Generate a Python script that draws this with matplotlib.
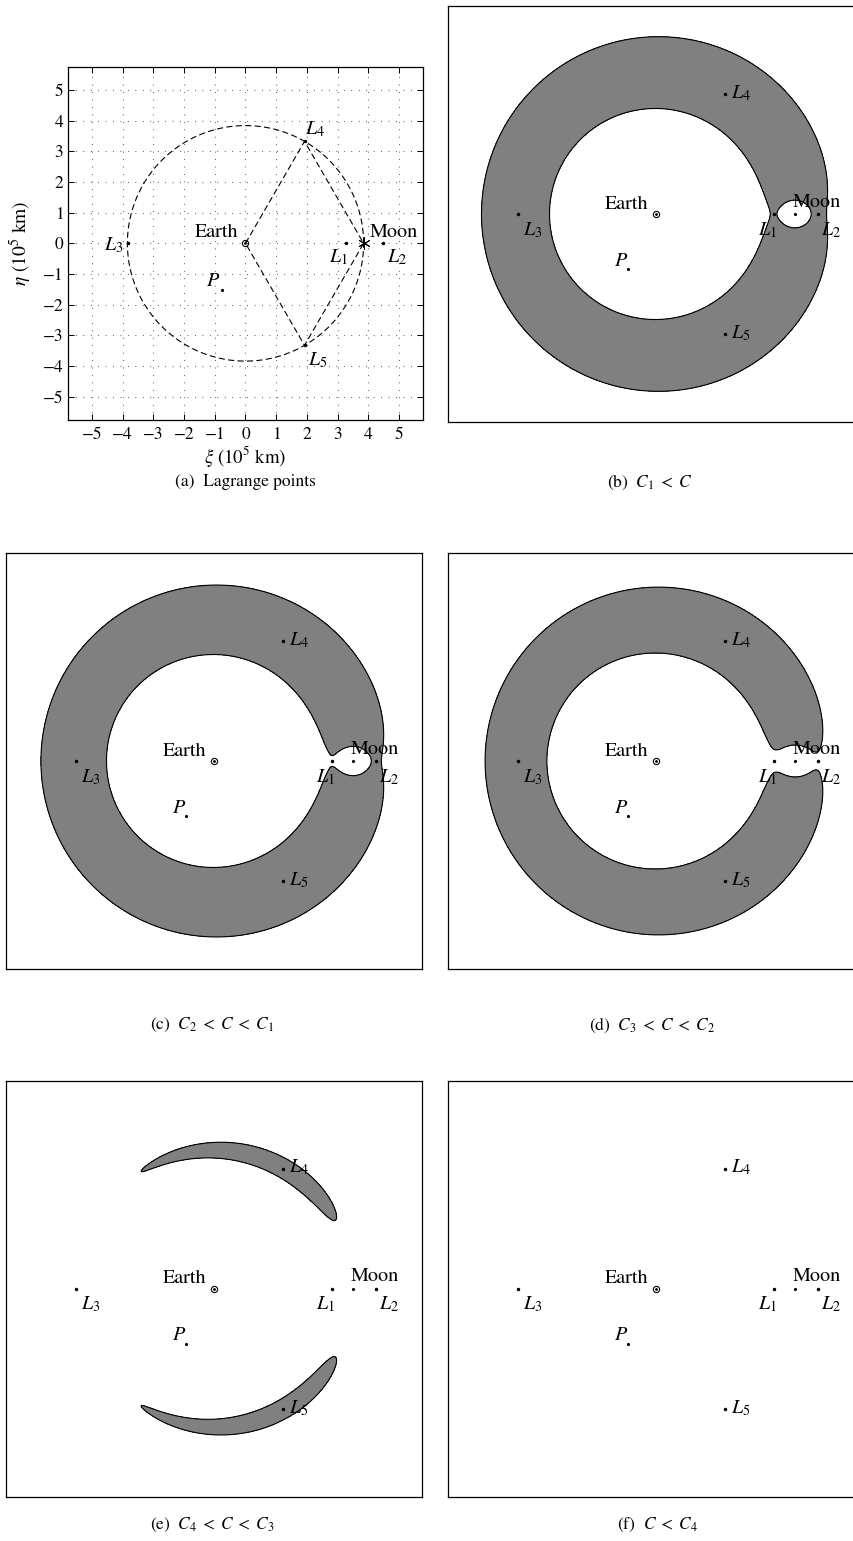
import numpy as np
import matplotlib.pyplot as plt

plt.rcParams['font.family'] = 'STIXGeneral'
plt.rcParams['mathtext.fontset'] = 'stix'

#---------------------------------- data -------------------------------------#
# Earth-Moon distance (10^5 km) and mass ratio
d_em = 3.844
mu = 0.01215

# Lagrange points in 10^5 km, Earth at the origin
lag_names = [r'$L_1$', r'$L_2$', r'$L_3$', r'$L_4$', r'$L_5$']
lag_xi = [3.26, 4.49, -3.82, 1.92, 1.92]
lag_eta = [0.0, 0.0, 0.0, 3.33, -3.33]
earth_xi, earth_eta = 0.0, 0.0
moon_xi, moon_eta = 3.844, 0.0
p_xi, p_eta = -0.77, -1.53

# Jacobi constant used in panels (b)..(f)
jacobi_c = [3.195, 3.182, 3.163, 3.0025, 2.980]
captions = [r'(a)  Lagrange points',
            r'(b)  $C_1\;<\;C$',
            r'(c)  $C_2\;<\;C\;<\;C_1$',
            r'(d)  $C_3\;<\;C\;<\;C_2$',
            r'(e)  $C_4\;<\;C\;<\;C_3$',
            r'(f)  $C\;<\;C_4$']

#------------------------------ layout (px) ----------------------------------#
W, H = 854, 1541
def px_axes(x0, y0, x1, y1):
    """figure rect from pixel box (top-left origin)"""
    return [x0 / W, 1 - y1 / H, (x1 - x0) / W, (y1 - y0) / H]

fig = plt.figure(figsize=(W / 100, H / 100), dpi=100)

lim = 1.5 * d_em
fs = 14.5

#-------------------------------- panel (a) ----------------------------------#
ax = fig.add_axes(px_axes(68.3, 66.7, 422.7, 420))
ax.set_xlim(-lim, lim)
ax.set_ylim(-lim, lim)
ax.set_xticks(range(-5, 6))
ax.set_yticks(range(-5, 6))
ax.tick_params(direction='in', top=True, right=True, length=4, width=0.7,
               labelsize=12.5)
ax.tick_params(axis='x', pad=5)
ax.grid(True, color='0.25', linestyle=(0, (0.7, 6)), linewidth=0.8)
for s in ax.spines.values():
    s.set_linewidth(0.9)

t = np.linspace(0, 2 * np.pi, 400)
ax.plot(d_em * np.cos(t), d_em * np.sin(t), 'k', dashes=(5.5, 3), lw=0.8)
ax.plot([earth_xi, lag_xi[3], moon_xi, lag_xi[4], earth_xi],
        [earth_eta, lag_eta[3], moon_eta, lag_eta[4], earth_eta],
        'k', dashes=(5.5, 3), lw=0.8)

ax.plot(lag_xi, lag_eta, 'k.', ms=3)
ax.plot(p_xi, p_eta, 'k.', ms=2.5)
ax.plot(earth_xi, earth_eta, 'o', ms=4.5, mfc='none', mec='k', mew=0.8)
ax.plot(earth_xi, earth_eta, 'k.', ms=2)
ax.plot(moon_xi, moon_eta, 'k', marker=(6, 2, 0), ms=9, mew=0.7)

offs_a = [(-7, -14, 'center'), (4, -14, 'left'), (-5, -2, 'right'),
          (0, 12, 'left'), (3, -15, 'left')]
for name, x, y, (dx, dy, ha) in zip(lag_names, lag_xi, lag_eta, offs_a):
    ax.annotate(name, (x, y), xytext=(dx, dy), textcoords='offset pixels',
                ha=ha, va='center', fontsize=fs)
ax.annotate('Earth', (earth_xi, earth_eta), xytext=(-7, 11),
            textcoords='offset pixels', ha='right', va='center', fontsize=fs)
ax.annotate('Moon', (moon_xi, moon_eta), xytext=(6, 11),
            textcoords='offset pixels', ha='left', va='center', fontsize=fs)
ax.annotate(r'$P$', (p_xi, p_eta), xytext=(-2, 9),
            textcoords='offset pixels', ha='right', va='center', fontsize=fs)
ax.set_xlabel(r'$\xi$ (10$^5$ km)', fontsize=13.5, labelpad=1)
ax.set_ylabel(r'$\eta$ (10$^5$ km)', fontsize=14, labelpad=6)

#--------------------------- zero velocity curves ----------------------------#
g = np.linspace(-lim, lim, 1200)
XI, ETA = np.meshgrid(g, g)
xs, ys = XI / d_em, ETA / d_em
r1 = np.hypot(xs, ys)
r2 = np.hypot(xs - 1, ys)
two_omega = (xs - mu) ** 2 + ys ** 2 + 2 * (1 - mu) / r1 + 2 * mu / r2

boxes = [(448, 6, 864, 422), (6, 553, 422, 969), (448, 553, 864, 969),
         (6, 1080.7, 422, 1496.5), (448, 1080.7, 864, 1496.5)]

offs = [(-6, -16, 'center'), (3, -16, 'left'), (5, -16, 'left'),
        (6, 1, 'left'), (6, 1, 'left')]

for box, c in zip(boxes, jacobi_c):
    ax = fig.add_axes(px_axes(*box))
    ax.set_xlim(-lim, lim)
    ax.set_ylim(-lim, lim)
    ax.set_xticks([])
    ax.set_yticks([])
    for s in ax.spines.values():
        s.set_linewidth(0.9)
    if c > two_omega.min():
        ax.contourf(XI, ETA, two_omega, levels=[two_omega.min() - 1, c],
                    colors=['#808080'])
        ax.contour(XI, ETA, two_omega, levels=[c], colors='k',
                   linewidths=0.8)
    ax.plot(lag_xi, lag_eta, 'k.', ms=3)
    ax.plot(moon_xi, moon_eta, 'k.', ms=2.5)
    ax.plot(p_xi, p_eta, 'k.', ms=2.5)
    ax.plot(earth_xi, earth_eta, 'o', ms=4.5, mfc='none', mec='k', mew=0.8)
    ax.plot(earth_xi, earth_eta, 'k.', ms=2)
    for name, x, y, (dx, dy, ha) in zip(lag_names, lag_xi, lag_eta, offs):
        ax.annotate(name, (x, y), xytext=(dx, dy),
                    textcoords='offset pixels', ha=ha, va='center',
                    fontsize=fs)
    ax.annotate('Earth', (earth_xi, earth_eta), xytext=(-8, 10),
                textcoords='offset pixels', ha='right', va='center',
                fontsize=fs)
    ax.annotate('Moon', (moon_xi, moon_eta), xytext=(-2, 12),
                textcoords='offset pixels', ha='left', va='center',
                fontsize=fs)
    ax.annotate(r'$P$', (p_xi, p_eta), xytext=(-7, 8),
                textcoords='offset pixels', ha='center', va='center',
                fontsize=fs)

#--------------------------------- captions ----------------------------------#
cap_pos = [(245, 482), (650, 482), (212, 1025), (652, 1025),
           (212, 1525), (657, 1525)]
for txt, (x, y) in zip(captions, cap_pos):
    fig.text(x / W, 1 - y / H, txt, ha='center', va='center', fontsize=12.5)

fig.savefig('out.png', dpi=100)
